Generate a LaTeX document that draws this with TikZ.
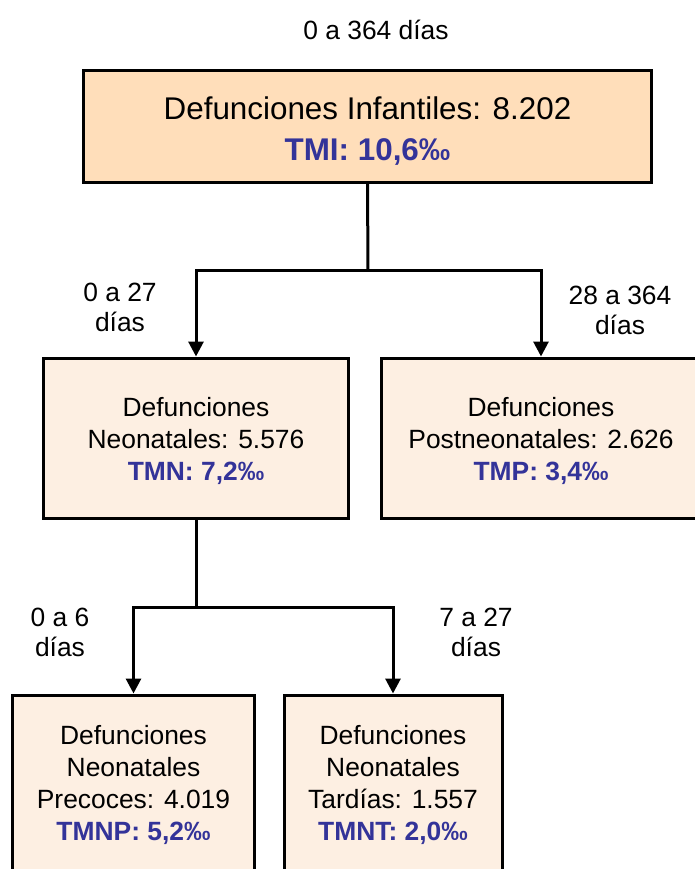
\documentclass[tikz,border=0pt]{standalone}
\usepackage{fontspec}
\setmainfont{Liberation Sans}
\usetikzlibrary{arrows.meta}

\definecolor{tasacol}{RGB}{51,51,153}
\definecolor{infcol}{RGB}{255,222,186}
\definecolor{subcol}{RGB}{253,239,226}

\begin{document}
\begin{tikzpicture}[x=1bp,y=1bp,>={Triangle[width=15bp,length=15bp]},
	caja/.style={draw,line width=3bp,fill=subcol,align=center,inner sep=0pt,
		font=\fontsize{26.5}{32}\selectfont},
	rango/.style={align=center,font=\fontsize{26.5}{30}\selectfont}]

\useasboundingbox (0,0) rectangle (695,-869);
\clip (0,0) rectangle (695,-869);

\coordinate (split1) at (368,-270);
\coordinate (split2) at (196,-607);

% cajas
\node[caja,fill=infcol,minimum width=567bp,minimum height=112bp,
	font=\fontsize{31.5}{42}\selectfont] (inf) at (367.5,-126)
	{\rule{0pt}{33bp}Defunciones Infantiles: 8.202\\{\bfseries\color{tasacol}TMI: 10,6‰}};
\node[caja,minimum width=304bp,minimum height=160bp] (neo) at (196,-438)
	{\rule{0pt}{25bp}Defunciones\\Neonatales: 5.576\\{\bfseries\color{tasacol}TMN: 7,2‰}};
\node[caja,minimum width=320bp,minimum height=160bp] (post) at (541,-438)
	{\rule{0pt}{25bp}Defunciones\\Postneonatales: 2.626\\{\bfseries\color{tasacol}TMP: 3,4‰}};
\node[caja,minimum width=241bp,minimum height=180bp] (prec) at (133.5,-785)
	{Defunciones\\Neonatales\\Precoces: 4.019\\{\bfseries\color{tasacol}TMNP: 5,2‰}};
\node[caja,minimum width=218bp,minimum height=180bp] (tard) at (393,-785)
	{Defunciones\\Neonatales\\Tardías: 1.557\\{\bfseries\color{tasacol}TMNT: 2,0‰}};

% rangos de edad
\node[rango] (r0) at (376,-30) {0 a 364 días};
\node[rango] (r1) at (120,-307) {0 a 27\\días};
\node[rango] (r2) at (620,-310) {28 a 364\\días};
\node[rango] (r3) at (60,-632) {0 a 6\\días};
\node[rango] (r4) at (476,-632) {7 a 27\\días};

% conectores
\draw[line width=3bp] (inf.south) -- (split1);
\draw[->,line width=3bp] (split1) -| (neo.north);
\draw[->,line width=3bp] (split1) -| (post.north);
\draw[line width=3bp] (neo.south) -- (split2);
\draw[->,line width=3bp] (split2) -| (prec.north);
\draw[->,line width=3bp] (split2) -| (tard.north);

\end{tikzpicture}
\end{document}
